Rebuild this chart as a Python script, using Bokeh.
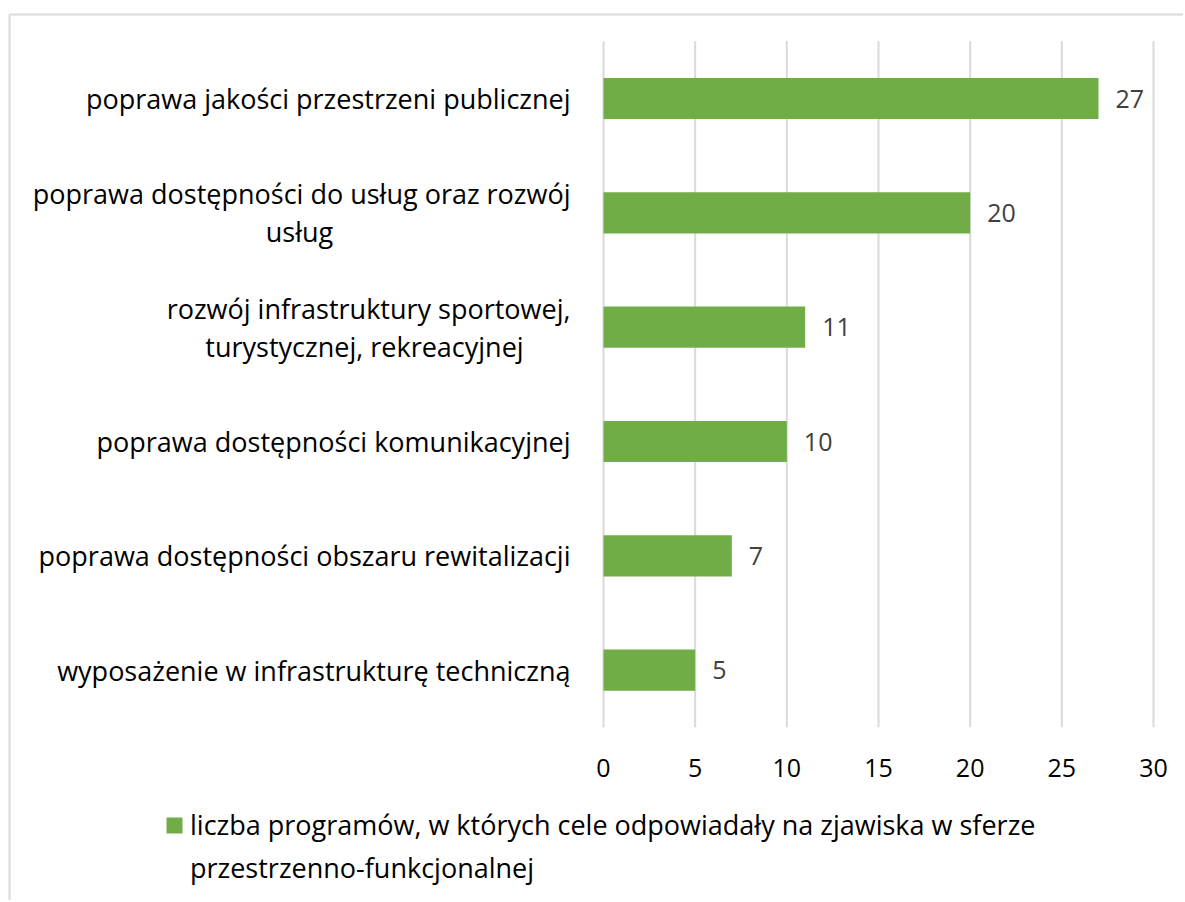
import numpy as np
from bokeh.plotting import figure
from bokeh.models import ColumnDataSource, Range1d, Legend, LegendItem
from bokeh.core.properties import value
from bokeh.embed import file_html
from bokeh.resources import INLINE

categories = [
    "poprawa jakości przestrzeni publicznej",
    "poprawa dostępności do usług oraz rozwój\nusług",
    "rozwój infrastruktury sportowej,\nturystycznej, rekreacyjnej",
    "poprawa dostępności komunikacyjnej",
    "poprawa dostępności obszaru rewitalizacji",
    "wyposażenie w infrastrukturę techniczną",
]
values = [27, 20, 11, 10, 7, 5]
x_ticks = [0, 5, 10, 15, 20, 25, 30]
series_name = "liczba programów, w których cele odpowiadały na zjawiska w sferze\nprzestrzenno-funkcjonalnej"

FONT = "Open Sans"
GREEN = "#70AD47"
GRID = "#d9d9d9"
CAT_SIZE = "27px"
TICK_SIZE = "25px"

# ---- layout (pixels, figure origin = page origin) ----
W, H = 1183, 900
X0_PX, PX_PER_UNIT = 603, 550 / 30.0   # where value 0 sits, and scale
ROW0_PX, ROW_PX = 98, 686 / 6.0        # centre of first category row, row pitch
STANDOFF = 33
LINE_GAP = 19
first_line_width = {1: 542, 2: 412}    # approx width of the first line of 2-line labels

n = len(categories)
ypos = np.arange(n)

x_start = -X0_PX / PX_PER_UNIT
x_end = (W - X0_PX) / PX_PER_UNIT
y_top = -ROW0_PX / ROW_PX
y_bottom = (H - ROW0_PX) / ROW_PX

p = figure(width=W, height=H, x_range=Range1d(x_start, x_end),
           y_range=Range1d(y_bottom, y_top),
           output_backend="svg", toolbar_location=None,
           min_border=0, x_axis_type=None, y_axis_type=None)
p.outline_line_color = None
p.grid.visible = False
p.background_fill_color = "white"
p.border_fill_color = "white"

# outer chart border (left and top edges of the chart area)
bx = x_start + 9 / PX_PER_UNIT
by = y_top + 14 / ROW_PX
p.segment(x0=[bx, bx], y0=[by, by], x1=[bx, x_end], y1=[y_bottom, by],
          line_color=GRID, line_width=2)

# vertical gridlines at the x ticks, over the category band
p.segment(x0=x_ticks, x1=x_ticks, y0=-0.5, y1=n - 0.5, line_color=GRID, line_width=2)

# tick labels
p.text(x=x_ticks, y=[n - 0.5] * len(x_ticks), text=[str(t) for t in x_ticks],
       y_offset=41, text_align="center", text_baseline="middle",
       text_font=value(FONT), text_font_size=TICK_SIZE, text_color="#000000")

source = ColumnDataSource(dict(y=ypos, val=values, lbl=[str(v) for v in values]))
bars = p.hbar(y="y", right="val", left=0, height=0.36, source=source,
              fill_color=GREEN, line_color=None)

# value labels
p.text(x="val", y="y", text="lbl", source=source, x_offset=17,
       text_align="left", text_baseline="middle",
       text_font=value(FONT), text_font_size=TICK_SIZE, text_color="#404040")

# category labels
r_y, r_txt, r_yoff = [], [], []
c_y, c_txt, c_xoff, c_yoff = [], [], [], []
for i, c in enumerate(categories):
    lines = c.split("\n")
    if len(lines) == 1:
        r_y.append(i); r_txt.append(lines[0]); r_yoff.append(0)
    else:
        r_y.append(i); r_txt.append(lines[0]); r_yoff.append(-LINE_GAP)
        c_y.append(i); c_txt.append(lines[1]); c_yoff.append(LINE_GAP)
        c_xoff.append(-(STANDOFF + first_line_width[i] / 2))

p.text(x=[0] * len(r_y), y=r_y, text=r_txt, x_offset=-STANDOFF, y_offset=r_yoff,
       text_align="right", text_baseline="middle",
       text_font=value(FONT), text_font_size=CAT_SIZE, text_color="#000000")
p.text(x=[0] * len(c_y), y=c_y, text=c_txt, x_offset=c_xoff, y_offset=c_yoff,
       text_align="center", text_baseline="middle",
       text_font=value(FONT), text_font_size=CAT_SIZE, text_color="#000000")

# legend: square beside the first line of the (two-line) series name
name_lines = series_name.split("\n")
blank = p.hbar(y=[], right=[], height=0.0, fill_alpha=0, line_alpha=0)
legend = Legend(items=[LegendItem(label=name_lines[0], renderers=[bars]),
                       LegendItem(label=name_lines[1], renderers=[blank])],
                location=(164, 14), orientation="vertical", spacing=6,
                label_text_font=FONT, label_text_font_size=CAT_SIZE,
                label_text_color="#000000", glyph_width=20, glyph_height=20,
                border_line_color=None, background_fill_alpha=0, padding=0, margin=0,
                label_standoff=6)
p.add_layout(legend, "center")

open("out.html", "w").write(file_html(p, INLINE))
